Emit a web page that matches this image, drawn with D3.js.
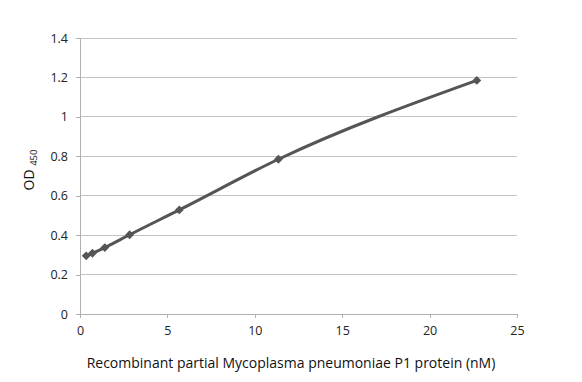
<!DOCTYPE html>
<html><head><meta charset="utf-8">
<script src="https://cdn.jsdelivr.net/npm/d3@7"></script>
<style>body{margin:0;background:#fff}</style>
</head><body>
<svg id="c" width="582" height="382"></svg>
<script>
const concentrations = [0.355, 0.71, 1.42, 2.84, 5.68, 11.35, 22.7];
const odValues = [0.295, 0.308, 0.337, 0.402, 0.528, 0.785, 1.185];
const xTicks = [0, 5, 10, 15, 20, 25];
const yTicks = [0, 0.2, 0.4, 0.6, 0.8, 1, 1.2, 1.4];

const svg = d3.select("#c");
const font = "'Open Sans', sans-serif";
const x = d3.scaleLinear().domain([0, 25]).range([80, 517]);
const y = d3.scaleLinear().domain([0, 1.4]).range([314, 38]);

// gridlines
svg.append("g").selectAll("line").data(yTicks.slice(1)).join("line")
  .attr("x1", x(0)).attr("x2", x(25)).attr("y1", d => y(d)).attr("y2", d => y(d))
  .attr("stroke", "#c4c4c4").attr("stroke-width", 1).attr("shape-rendering", "crispEdges");

const yAxis = svg.append("g").attr("transform", `translate(${x(0)},0)`)
  .call(d3.axisLeft(y).tickValues(yTicks).tickSize(4).tickPadding(8).tickFormat(d => d3.format("")(d)));
const xAxis = svg.append("g").attr("transform", `translate(0,${y(0)})`)
  .call(d3.axisBottom(x).tickValues(xTicks).tickSize(4).tickPadding(8));
[yAxis, xAxis].forEach(a => {
  a.selectAll("path,line").attr("stroke", "#b0b0b0").attr("shape-rendering", "crispEdges");
  a.selectAll("text").attr("font-family", font).attr("font-size", 12.5).attr("fill", "#222");
});
yAxis.select(".domain").attr("d", `M0,${y(0)}V${y(1.4)}`);
xAxis.select(".domain").attr("d", `M${x(0)},0H${x(25)}`);

const pts = concentrations.map((c, i) => [c, odValues[i]]);
svg.append("path").datum(pts)
  .attr("d", d3.line().x(d => x(d[0])).y(d => y(d[1])).curve(d3.curveMonotoneX))
  .attr("fill", "none").attr("stroke", "#555").attr("stroke-width", 3);

svg.append("g").selectAll("path").data(pts).join("path")
  .attr("d", d3.symbol(d3.symbolDiamond2, 50))
  .attr("transform", d => `translate(${x(d[0])},${y(d[1])})`)
  .attr("fill", "#555");

// y axis title
const yt = svg.append("text").attr("transform", "translate(34,170) rotate(-90)")
  .attr("text-anchor", "middle").attr("font-family", font).attr("font-size", 14).attr("fill", "#111");
yt.append("tspan").text("OD ");
yt.append("tspan").attr("font-size", 9.5).attr("dy", 3).text("450");

svg.append("text").attr("x", 291).attr("y", 368).attr("text-anchor", "middle")
  .attr("font-family", font).attr("font-size", 14).attr("fill", "#111")
  .text("Recombinant partial Mycoplasma pneumoniae  P1 protein (nM)");
</script>
</body></html>
